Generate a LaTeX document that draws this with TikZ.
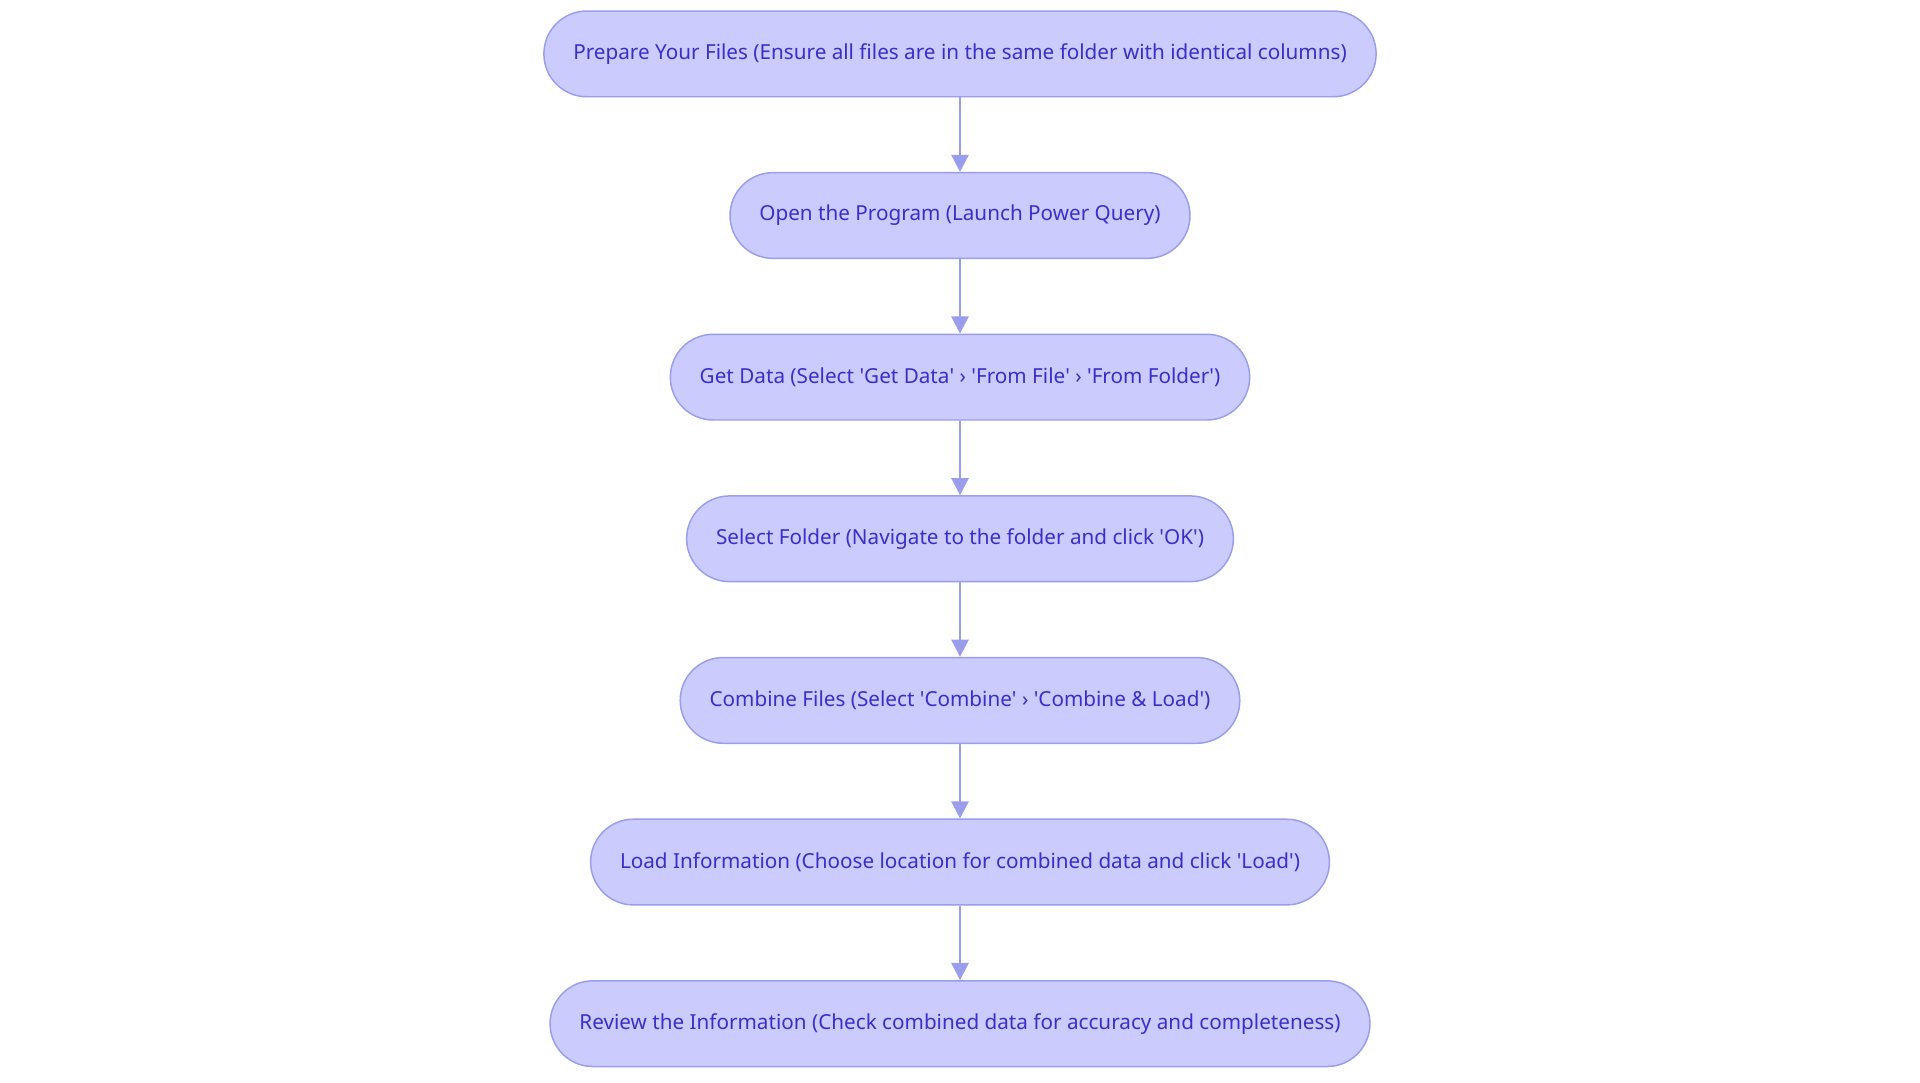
\documentclass[tikz,border=0pt]{standalone}
\usepackage{fontspec}
\setmainfont{Noto Sans}
\usetikzlibrary{arrows.meta}
\definecolor{nfill}{HTML}{CBCCFD}
\definecolor{ndraw}{HTML}{9A9DEB}
\definecolor{ntext}{HTML}{3A2FC8}
\newcommand{\q}{\textquotesingle}
\begin{document}
\begin{tikzpicture}[x=0.5pt,y=-0.5pt,
  box/.style={rounded corners=17.5pt,fill=nfill,draw=ndraw,line width=0.6pt,text=ntext,
    font=\fontsize{8.45pt}{10pt}\selectfont,minimum height=35pt,inner xsep=12pt},
  arr/.style={draw=ndraw,line width=1pt,-{Triangle[length=7pt,width=7pt]}}]
\useasboundingbox (0,0) rectangle (1568,884);
\node[box] (a) at (784,44) {Prepare Your Files (Ensure all files are in the same folder with identical columns)};
\node[box] (b) at (784,176) {Open the Program (Launch Power Query)};
\node[box] (c) at (784,308) {Get Data (Select \q Get Data\q{} › \q From File\q{} › \q From Folder\q)};
\node[box] (d) at (784,440) {Select Folder (Navigate to the folder and click \q OK\q)};
\node[box] (e) at (784,572) {Combine Files (Select \q Combine\q{} › \q Combine \& Load\q)};
\node[box] (f) at (784,704) {Load Information (Choose location for combined data and click \q Load\q)};
\node[box] (g) at (784,836) {Review the Information (Check combined data for accuracy and completeness)};
\foreach \p/\r in {a/b,b/c,c/d,d/e,e/f,f/g} \draw[arr] (\p) -- (\r);
\end{tikzpicture}
\end{document}
